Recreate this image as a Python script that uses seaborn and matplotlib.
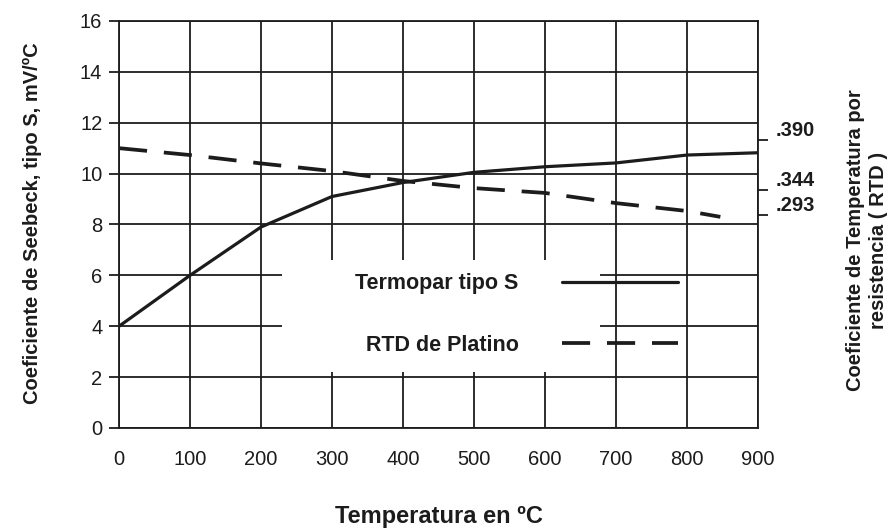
import matplotlib
matplotlib.use("Agg")
import matplotlib.pyplot as plt
from matplotlib.patches import Rectangle
import seaborn as sns

# ── Data ───────────────────────────────────────────────────────────────────────
temp_s = [0, 100, 200, 300, 400, 500, 600, 700, 800, 900]
seebeck_s = [4.0, 6.0, 7.9, 9.1, 9.65, 10.05, 10.27, 10.42, 10.73, 10.82]

temp_rtd = [0, 100, 200, 300, 400, 500, 600, 700, 800, 847]
coef_rtd = [11.0, 10.73, 10.4, 10.1, 9.71, 9.43, 9.24, 8.84, 8.53, 8.30]

x_ticks = [0, 100, 200, 300, 400, 500, 600, 700, 800, 900]
y_ticks = [0, 2, 4, 6, 8, 10, 12, 14, 16]
rtd_tick_pos = [11.32, 9.36, 8.37]
rtd_tick_labels = [".390", ".344", ".293"]

label_s = "Termopar tipo S"
label_rtd = "RTD de Platino"

# ── Style ──────────────────────────────────────────────────────────────────────
sns.set_theme(style="white")
plt.rcParams["font.family"] = ["Liberation Sans", "DejaVu Sans"]
INK = "#1c1c1c"

fig, ax = plt.subplots(figsize=(8.91, 5.30), dpi=100)
fig.subplots_adjust(left=0.1336, right=0.8507, top=0.9604, bottom=0.1925)

# grid, with the blank area behind the legend
ax.set_axisbelow(True)
ax.grid(True, color=INK, linewidth=1.3)
ax.add_patch(Rectangle((229, 2.2), 448, 4.4, facecolor="white",
                       edgecolor="none", zorder=1))

sns.lineplot(x=temp_s, y=seebeck_s, ax=ax, color=INK, linewidth=2.3,
             label=label_s, zorder=3)
sns.lineplot(x=temp_rtd, y=coef_rtd, ax=ax, color=INK, linewidth=2.7,
             linestyle=(0, (7.5, 4.5)), label=label_rtd, zorder=3)

ax.set_xlim(0, 900)
ax.set_ylim(0, 16)
ax.set_xticks(x_ticks)
ax.set_yticks(y_ticks)
ax.tick_params(axis="x", length=0, pad=16, labelsize=14.5, colors=INK)
ax.tick_params(axis="y", direction="out", length=7, width=1.3, pad=5,
               labelsize=14.5, colors=INK, left=True)
for sp in ax.spines.values():
    sp.set_visible(True)
    sp.set_color(INK)
    sp.set_linewidth(1.3)

ax.set_xlabel("Temperatura en ºC", fontsize=17, fontweight="bold", color=INK)
ax.xaxis.set_label_coords(0.5, -0.19)
ax.set_ylabel("Coeficiente de Seebeck, tipo S, mV/ºC", fontsize=14.5,
              fontweight="bold", color=INK)
ax.yaxis.set_label_coords(-0.12, 0.502)

leg = ax.legend(loc="center", bbox_to_anchor=(560, 4.46),
                bbox_transform=ax.transData, markerfirst=False,
                frameon=False, handlelength=5.4, handletextpad=2.0,
                labelspacing=1.88, prop={"weight": "bold", "size": 15.5})
for t in leg.get_texts():
    t.set_color(INK)

# right axis: RTD coefficient
ax2 = ax.twinx()
ax2.set_ylim(0, 16)
ax2.set_yticks(rtd_tick_pos, labels=rtd_tick_labels)
ax2.tick_params(axis="y", direction="out", length=7, width=1.3, pad=6,
                labelsize=14.5, colors=INK, right=True)
for lab in ax2.get_yticklabels():
    lab.set_fontweight("bold")
    lab.set_va("bottom")
for sp in ax2.spines.values():
    sp.set_visible(False)
ax2.set_ylabel("Coeficiente de Temperatura por\nresistencia ( RTD )",
               fontsize=14.5, fontweight="bold", color=INK, linespacing=1.25)
ax2.yaxis.set_label_coords(1.138, 0.462)

plt.savefig("out.png", dpi=100)
